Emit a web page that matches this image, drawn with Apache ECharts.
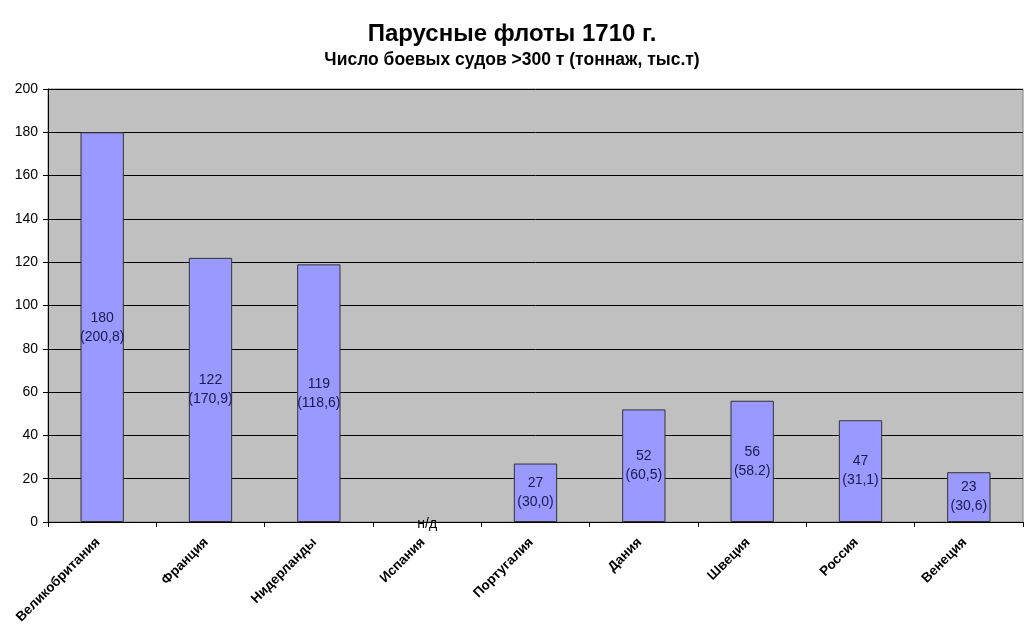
<!DOCTYPE html>
<html><head><meta charset="utf-8">
<script src="https://cdn.jsdelivr.net/npm/echarts@6/dist/echarts.min.js"></script>
<style>html,body{margin:0;padding:0;background:#fff}#c{width:1024px;height:633px}</style>
</head><body><div id="c"></div>
<script>
const categories = ['Великобритания','Франция','Нидерланды','Испания','Португалия','Дания','Швеция','Россия','Венеция'];
const ships = [180,122,119,0,27,52,56,47,23];
const tonnage = ['200,8','170,9','118,6',null,'30,0','60,5','58.2','31,1','30,6'];
const yTicks = {min:0,max:200,interval:20};

const chart = echarts.init(document.getElementById('c'));
const F = '"Liberation Sans", Arial, sans-serif';
chart.setOption({
  animation:false,
  title:{text:'Парусные флоты 1710 г.',subtext:'Число боевых судов >300 т (тоннаж, тыс.т)',left:'center',top:17,itemGap:5,
    textStyle:{fontFamily:F,fontSize:24,fontWeight:'bold',color:'#000'},
    subtextStyle:{fontFamily:F,fontSize:17.5,fontWeight:'bold',color:'#000'}},
  grid:{left:48,right:1,top:89,bottom:111,show:true,backgroundColor:'#c0c0c0',borderColor:'#808080',borderWidth:1},
  xAxis:{type:'category',data:categories,
    axisLine:{lineStyle:{color:'#000'}},
    axisTick:{show:true,length:5,lineStyle:{color:'#000'}},
    axisLabel:{rotate:45,interval:0,fontFamily:F,fontSize:13.5,fontWeight:'bold',color:'#000',margin:14,padding:[0,6,0,0]}},
  yAxis:{type:'value',min:yTicks.min,max:yTicks.max,interval:yTicks.interval,
    axisLine:{show:true,lineStyle:{color:'#000'}},
    axisTick:{show:true,length:5,lineStyle:{color:'#000'}},
    splitLine:{lineStyle:{color:'#000',width:1}},
    axisLabel:{fontFamily:F,fontSize:14,color:'#000',margin:10}},
  series:[{type:'bar',barWidth:'40%',
    data:ships.map((v,i)=>({value:v,itemStyle:tonnage[i]===null?{borderWidth:0}:{},
      label:tonnage[i]===null?{color:'#000',offset:[0,2]}:{}})),
    itemStyle:{color:'#9999ff',borderColor:'#333333',borderWidth:1},
    label:{show:true,position:'inside',fontFamily:F,fontSize:14,color:'#1a1a50',lineHeight:19,
      formatter:p=>tonnage[p.dataIndex]===null?'н/д':p.value+'\n('+tonnage[p.dataIndex]+')'}}]
});
</script></body></html>
